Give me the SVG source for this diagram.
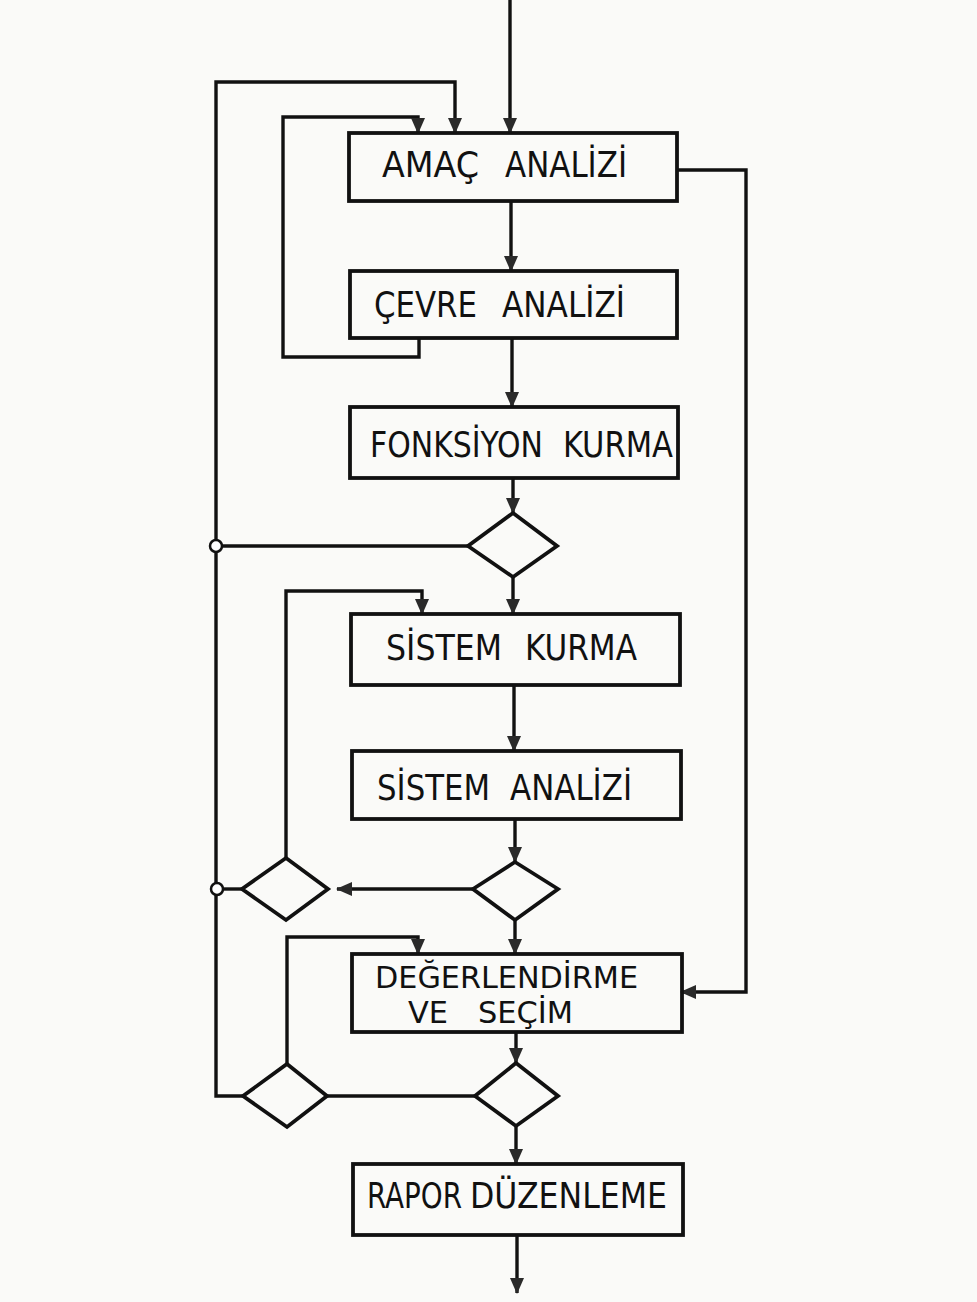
<svg xmlns="http://www.w3.org/2000/svg" width="977" height="1302" viewBox="0 0 977 1302">
<style>
.box{fill:none;stroke:#111;stroke-width:3.8}
.dia{fill:none;stroke:#111;stroke-width:3.8;stroke-linejoin:miter}
.ln{fill:none;stroke:#111;stroke-width:3.4}
.ar{marker-end:url(#arr)}
.lbl{font-family:"Liberation Sans Narrow","DejaVu Sans Condensed","Liberation Sans",sans-serif;font-size:35px;fill:#111}
.sm{font-size:31px}
.dot{fill:#fff;stroke:#111;stroke-width:2.5}
</style>
<defs>
<marker id="arr" viewBox="0 0 16 14" refX="15" refY="7" markerWidth="16" markerHeight="14" markerUnits="userSpaceOnUse" orient="auto">
<path d="M0,0 L16,7 L0,14 Z" fill="#2a2a2a"/>
</marker>
</defs>
<rect x="0" y="0" width="977" height="1302" fill="#fafaf8"/>

<g id="connectors">
<path class="ln ar" d="M510,0 V133"/>
<path class="ln ar" d="M511,201 V271"/>
<path class="ln ar" d="M512,338 V407"/>
<path class="ln ar" d="M513,478 V513"/>
<path class="ln ar" d="M513,577 V614"/>
<path class="ln ar" d="M514,685 V751"/>
<path class="ln ar" d="M515,819 V862"/>
<path class="ln ar" d="M515,920 V954"/>
<path class="ln ar" d="M516,1032 V1063"/>
<path class="ln ar" d="M516,1126 V1164"/>
<path class="ln ar" d="M517,1235 V1293"/>
<path class="ln ar" d="M419,338 V357 H283 V117 H418 V133"/>
<path class="ln ar" d="M243,1096 H216 V82 H455 V133"/>
<path class="ln ar" d="M677,170 H746 V992 H681"/>
<path class="ln" d="M468,546 H222"/>
<path class="ln ar" d="M473,889 H337"/>
<path class="ln" d="M242,889 H223"/>
<path class="ln ar" d="M286,858 V591 H422 V614"/>
<path class="ln ar" d="M287,1064 V937 H418 V954"/>
<path class="ln" d="M327,1096 H475"/>
<circle class="dot" cx="216" cy="546" r="6"/>
<circle class="dot" cx="217" cy="889" r="6"/>
</g>

<g id="amac-analizi">
<rect class="box" x="349" y="133" width="328" height="68"/>
<text class="lbl" x="382" y="177" textLength="97" lengthAdjust="spacingAndGlyphs">AMAÇ</text>
<text class="lbl" x="505" y="177" textLength="122" lengthAdjust="spacingAndGlyphs">ANALİZİ</text>
</g>

<g id="cevre-analizi">
<rect class="box" x="350" y="271" width="327" height="67"/>
<text class="lbl" x="374" y="317" textLength="103" lengthAdjust="spacingAndGlyphs">ÇEVRE</text>
<text class="lbl" x="502" y="317" textLength="123" lengthAdjust="spacingAndGlyphs">ANALİZİ</text>
</g>

<g id="fonksiyon-kurma">
<rect class="box" x="350" y="407" width="328" height="71"/>
<text class="lbl" x="370" y="457" textLength="173" lengthAdjust="spacingAndGlyphs">FONKSİYON</text>
<text class="lbl" x="563" y="457" textLength="110" lengthAdjust="spacingAndGlyphs">KURMA</text>
</g>

<g id="karar-1">
<polygon class="dia" points="513,513 557,546 513,577 468,546"/>
</g>

<g id="sistem-kurma">
<rect class="box" x="351" y="614" width="329" height="71"/>
<text class="lbl" x="386" y="660" textLength="116" lengthAdjust="spacingAndGlyphs">SİSTEM</text>
<text class="lbl" x="525" y="660" textLength="112" lengthAdjust="spacingAndGlyphs">KURMA</text>
</g>

<g id="sistem-analizi">
<rect class="box" x="352" y="751" width="329" height="68"/>
<text class="lbl" x="377" y="800" textLength="113" lengthAdjust="spacingAndGlyphs">SİSTEM</text>
<text class="lbl" x="510" y="800" textLength="122" lengthAdjust="spacingAndGlyphs">ANALİZİ</text>
</g>

<g id="karar-2">
<polygon class="dia" points="515,862 558,889 515,920 473,889"/>
</g>

<g id="karar-2b">
<polygon class="dia" points="286,858 328,889 286,920 242,889"/>
</g>

<g id="degerlendirme-ve-secim">
<rect class="box" x="352" y="954" width="330" height="78"/>
<text class="lbl sm" x="375" y="988" textLength="263" lengthAdjust="spacingAndGlyphs">DEĞERLENDİRME</text>
<text class="lbl sm" x="408" y="1023" textLength="40" lengthAdjust="spacingAndGlyphs">VE</text>
<text class="lbl sm" x="478" y="1023" textLength="95" lengthAdjust="spacingAndGlyphs">SEÇİM</text>
</g>

<g id="karar-3">
<polygon class="dia" points="516,1063 558,1096 516,1126 475,1096"/>
</g>

<g id="karar-3b">
<polygon class="dia" points="287,1064 327,1096 287,1127 243,1096"/>
</g>

<g id="rapor-duzenleme">
<rect class="box" x="353" y="1164" width="330" height="71"/>
<text class="lbl" x="367" y="1208" textLength="95" lengthAdjust="spacingAndGlyphs">RAPOR</text>
<text class="lbl" x="470" y="1208" textLength="197" lengthAdjust="spacingAndGlyphs">DÜZENLEME</text>
</g>
</svg>
